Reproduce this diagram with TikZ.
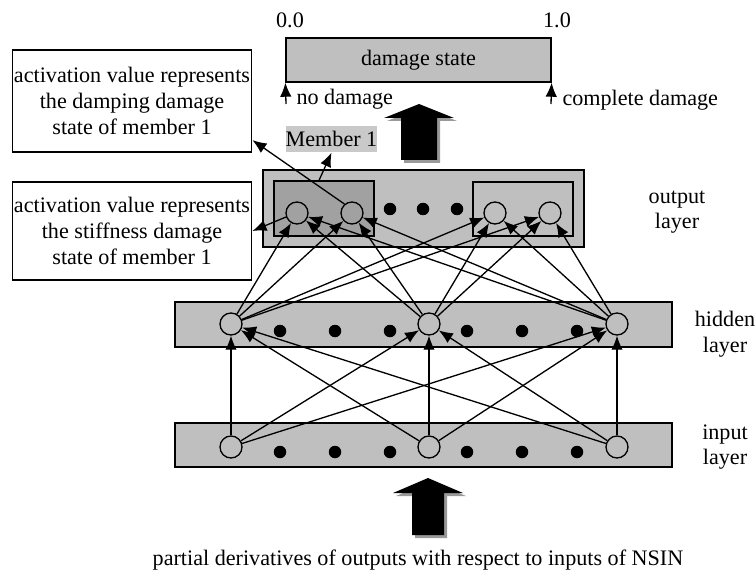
\documentclass[tikz,border=0pt]{standalone}
\usepackage{fontspec}
\setmainfont{Liberation Serif}
\usepackage{xcolor}
\usetikzlibrary{arrows.meta,positioning}
\definecolor{layergray}{gray}{0.75}
\definecolor{deepgray}{gray}{0.63}
\definecolor{labelgray}{gray}{0.79}
\definecolor{shadowgray}{gray}{0.6}

\begin{document}
\begin{tikzpicture}[x=0.02cm, y=-0.02cm, line width=0.75pt,
		font=\fontsize{12.6}{14.6}\selectfont,
		neuron/.style={draw, circle, minimum size=0.44cm, inner sep=0pt},
		blob/.style={fill, circle, minimum size=0.25cm, inner sep=0pt},
		layerbox/.style={draw, fill=layergray, inner sep=0pt},
		conn/.style={-{Latex[length=8pt,width=6.5pt]}},
		note/.style={draw, align=center, minimum width=4.76cm, inner sep=1pt}]
			\useasboundingbox (0,0) rectangle (756,574);
			% damage state scale
			\node[layerbox, minimum width=5.3cm, minimum height=0.88cm] (bar) at (418.5,60) {damage state};
			\node (zero) at (290,20) {0.0};
			\node (one) at (557,20) {1.0};
			\coordinate (nd) at (286,104);
			\coordinate (cd) at (551,104);
			\draw[conn] (nd) -- (bar.south west);
			\draw[conn] (cd) -- (bar.south east);
			\node[anchor=west] (nodmg) at (290,99) {no damage};
			\node[anchor=west] (cmpdmg) at (556,100) {complete damage};
			% fat arrows with shadow
			\fill[shadowgray] (422,107) -- (457,121) -- (440,121) -- (440,163) -- (404,163) -- (404,121) -- (387,121) -- cycle;
			\fill (419,104) -- (454,118) -- (437,118) -- (437,160) -- (401,160) -- (401,118) -- (384,118) -- cycle;
			\fill[shadowgray] (431,481) -- (466,496) -- (447,496) -- (447,538) -- (415,538) -- (415,496) -- (396,496) -- cycle;
			\fill (428,478) -- (463,493) -- (444,493) -- (444,535) -- (412,535) -- (412,493) -- (393,493) -- cycle;
			% output layer
			\node[layerbox, minimum width=6.42cm, minimum height=1.54cm] (outbox) at (423.5,208.5) {};
			\node[draw, fill=deepgray, minimum width=2cm, minimum height=1.1cm, inner sep=0pt] (grpL) at (324,208.5) {};
			\node[draw, minimum width=2cm, minimum height=1.08cm, inner sep=0pt] (grpR) at (523,209) {};
			\foreach \n/\x in {1/297, 2/352, 3/495, 4/550}
				\node[neuron] (o\n) at (\x,213) {};
			\foreach \x in {390,423,457}
				\node[blob] (od\x) at (\x,209) {};
			% hidden and input layers
			\node[layerbox, minimum width=9.94cm, minimum height=0.9cm] (hidbox) at (423.5,324.5) {};
			\node[layerbox, minimum width=9.94cm, minimum height=0.88cm] (inbox) at (423.5,445) {};
			\foreach \n/\x in {1/231, 2/429, 3/617} {
				\node[neuron] (h\n) at (\x,324) {};
				\node[neuron] (i\n) at (\x,447) {};
			}
			\foreach \x in {280,335,390,467,522,577} {
				\node[blob] (hd\x) at (\x,331) {};
				\node[blob] (id\x) at (\x,452) {};
			}
			% connections
			\foreach \a in {1,2,3}
				\foreach \b in {1,2,3}
					\draw[conn] (i\a) -- (h\b);
			\foreach \a in {1,2,3}
				\foreach \b in {1,...,4}
					\draw[conn] (h\a) -- (o\b);
			% layer names
			\node[align=center] (outlbl) at (677,212) {output\\layer};
			\node[align=center] (hidlbl) at (725,334) {hidden\\layer};
			\node[align=center] (inlbl) at (725,447) {input\\layer};
			% notes
			\node[note, minimum height=2.04cm] (damp) at (132,101) {activation value represents\\the damping damage\\state of member 1};
			\node[note, minimum height=1.96cm] (stiff) at (132,231) {activation value represents\\the stiffness damage\\state of member 1};
			\node[fill=labelgray, minimum width=1.82cm, minimum height=0.52cm, inner sep=0pt] (mem) at (331.5,139) {Member 1};
			\draw[conn] (o2.130) -- (damp.-18);
			\draw[conn] (o1.200) -- (stiff.east);
			\draw[conn] (grpL.100) -- (mem.south);
			\node (src) at (418,560) {partial derivatives of outputs with respect to inputs of NSIN};
		\end{tikzpicture}
\end{document}
